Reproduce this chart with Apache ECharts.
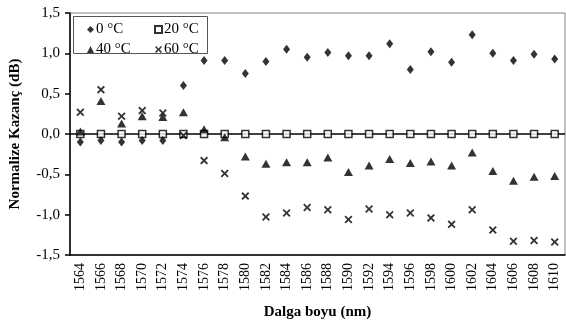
<!DOCTYPE html>
<html>
<head>
<meta charset="utf-8">
<script src="https://cdn.jsdelivr.net/npm/echarts@6/dist/echarts.min.js"></script>
<style>
  html, body { margin: 0; padding: 0; background: #fff; }
  #chart { width: 566px; height: 325px; }
</style>
</head>
<body>
<div id="chart"></div>
<script>
// wavelengths (nm)
const wavelengths = ['1564', '1566', '1568', '1570', '1572', '1574', '1576', '1578', '1580', '1582', '1584', '1586',
  '1588', '1590', '1592', '1594', '1596', '1598', '1600', '1602', '1604', '1606', '1608', '1610']

// normalized gain (dB)
const gain0 = [-0.10, -0.08, -0.10, -0.08, -0.08, 0.60, 0.91, 0.91, 0.75, 0.90, 1.05, 0.95,
  1.01, 0.97, 0.97, 1.12, 0.80, 1.02, 0.89, 1.23, 1.00, 0.91, 0.99, 0.93]
const gain20 = [0, 0, 0, 0, 0, 0, 0, 0, 0, 0, 0, 0, 0, 0, 0, 0, 0, 0, 0, 0, 0, 0, 0, 0]
const gain40 = [0.03, 0.41, 0.13, 0.22, 0.21, 0.27, 0.06, -0.04, -0.28, -0.37, -0.35, -0.35,
  -0.29, -0.47, -0.39, -0.31, -0.36, -0.34, -0.39, -0.23, -0.46, -0.58, -0.53, -0.52]
const gain60 = [0.27, 0.55, 0.22, 0.29, 0.26, -0.02, -0.33, -0.49, -0.77, -1.03, -0.98, -0.91,
  -0.94, -1.06, -0.93, -1.00, -0.98, -1.04, -1.12, -0.94, -1.19, -1.33, -1.32, -1.34]

const seriesNames = ['0 °C', '20 °C', '40 °C', '60 °C']

const font = 'Liberation Serif, Times New Roman, serif'
const crossPath = 'path://M0,1.6L1.6,0L5,3.4L8.4,0L10,1.6L6.6,5L10,8.4L8.4,10L5,6.6L1.6,10L0,8.4L3.4,5Z'

const chart = echarts.init(document.getElementById('chart'))

const legendStyle = {
  orient: 'vertical',
  top: 17,
  itemGap: 5,
  itemWidth: 7,
  itemHeight: 7,
  textStyle: { fontFamily: font, fontSize: 15, color: '#000', padding: [0, 0, 0, -3] },
  z: 100
}

const option = {
  animation: false,
  textStyle: { fontFamily: font },
  grid: {
    left: 69,
    right: 1,
    top: 13,
    bottom: 63,
    show: true,
    borderColor: '#808080',
    borderWidth: 1
  },
  graphic: [
    {
      type: 'rect',
      left: 73,
      top: 16,
      shape: { width: 134, height: 37 },
      style: { fill: '#fff', stroke: '#555', lineWidth: 1 },
      z: 90
    }
  ],
  legend: [
    Object.assign({ data: [seriesNames[0], seriesNames[2]], left: 82 }, legendStyle),
    Object.assign({ data: [seriesNames[1], seriesNames[3]], left: 149 }, legendStyle)
  ],
  xAxis: {
    type: 'category',
    data: wavelengths,
    boundaryGap: true,
    name: 'Dalga boyu (nm)',
    nameLocation: 'middle',
    nameGap: 50,
    nameTextStyle: { fontFamily: font, fontSize: 15, fontWeight: 'bold', color: '#000' },
    axisLine: { onZero: false, lineStyle: { color: '#000', width: 1.5 } },
    axisTick: { alignWithLabel: true, inside: true, length: 6, lineStyle: { color: '#000', width: 1.5 } },
    axisLabel: { rotate: 90, interval: 0, fontFamily: font, fontSize: 14, color: '#000', margin: 8 },
    splitLine: { show: false }
  },
  yAxis: {
    type: 'value',
    min: -1.5,
    max: 1.5,
    interval: 0.5,
    name: 'Normalize Kazanç (dB)',
    nameLocation: 'middle',
    nameGap: 47,
    nameTextStyle: { fontFamily: font, fontSize: 15, fontWeight: 'bold', color: '#000' },
    axisLine: { show: true, lineStyle: { color: '#000', width: 1.5 } },
    axisTick: { show: true, length: 5, lineStyle: { color: '#000', width: 1.5 } },
    axisLabel: {
      fontFamily: font,
      fontSize: 15,
      color: '#000',
      margin: 10,
      formatter: v => v.toFixed(1).replace('.', ',')
    },
    splitLine: { show: false }
  },
  series: [
    {
      name: seriesNames[0],
      type: 'scatter',
      data: gain0,
      symbol: 'diamond',
      symbolSize: [7, 9],
      itemStyle: { color: '#000' },
      z: 5
    },
    {
      name: seriesNames[1],
      type: 'scatter',
      data: gain20,
      symbol: 'rect',
      symbolSize: 7,
      itemStyle: { color: '#fff', borderColor: '#000', borderWidth: 1.5 },
      markLine: {
        silent: true,
        symbol: 'none',
        label: { show: false },
        lineStyle: { color: '#000', width: 1.5, type: 'solid' },
        data: [{ yAxis: 0 }],
        z: 1
      },
      z: 4
    },
    {
      name: seriesNames[2],
      type: 'scatter',
      data: gain40,
      symbol: 'triangle',
      symbolSize: [9, 8],
      itemStyle: { color: '#000' },
      z: 6
    },
    {
      name: seriesNames[3],
      type: 'scatter',
      data: gain60,
      symbol: crossPath,
      symbolSize: 8,
      itemStyle: { color: '#000' },
      z: 6
    }
  ]
}

chart.setOption(option)
</script>
</body>
</html>
